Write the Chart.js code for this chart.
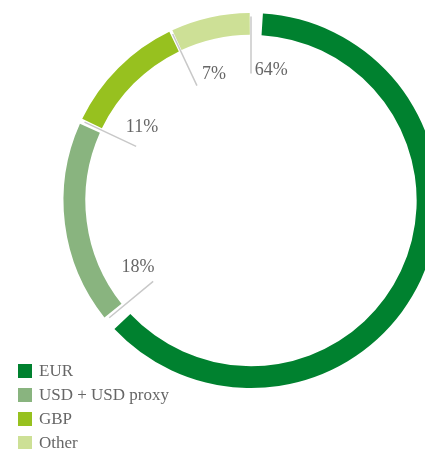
<!DOCTYPE html>
<html>
<head>
<meta charset="utf-8">
<script src="https://cdn.jsdelivr.net/npm/chart.js@4/dist/chart.umd.min.js"></script>
<style>
  html, body { margin: 0; padding: 0; background: #fff; overflow: hidden; }
  body { width: 425px; height: 449px; position: relative; }
  #wrap { position: absolute; left: 0; top: 0; width: 460px; height: 449px; }
  #legend { position: absolute; left: 18px; top: 359px; font-family: "Liberation Serif", serif; font-size: 17px; color: #666; }
  .item { height: 24px; display: flex; align-items: center; }
  .box { width: 14px; height: 14px; margin-right: 7px; }
</style>
</head>
<body>
<div id="wrap"><canvas id="chart"></canvas></div>
<div id="legend"></div>
<script>
// currency split, percent
const labels = ['EUR', 'USD + USD proxy', 'GBP', 'Other'];
const shares = [64, 18, 11, 7];
const colors = ['#00812f', '#89b47f', '#97c11f', '#cde096'];

// leader lines + % text at the start of each slice
const sliceLabels = {
  id: 'sliceLabels',
  afterDatasetsDraw(chart) {
    const ctx = chart.ctx;
    const arcs = chart.getDatasetMeta(0).data;
    ctx.save();
    arcs.forEach((arc, i) => {
      const a = arc.startAngle;
      const R = arc.outerRadius + 2;
      const r = R * 0.69;
      ctx.strokeStyle = '#c8c8c8';
      ctx.lineWidth = 1.5;
      ctx.beginPath();
      ctx.moveTo(arc.x + Math.cos(a) * R, arc.y + Math.sin(a) * R);
      ctx.lineTo(arc.x + Math.cos(a) * r, arc.y + Math.sin(a) * r);
      ctx.stroke();
      const ta = a + 0.155, tr = R * 0.715;
      ctx.fillStyle = '#666';
      ctx.font = '18px "Liberation Serif"';
      ctx.textAlign = 'center';
      ctx.textBaseline = 'middle';
      ctx.fillText(shares[i] + '%', arc.x + Math.cos(ta) * tr, arc.y + Math.sin(ta) * tr);
    });
    ctx.restore();
  }
};

new Chart(document.getElementById('chart'), {
  type: 'doughnut',
  data: {
    labels: labels,
    datasets: [{
      data: shares,
      backgroundColor: colors,
      borderWidth: 0,
      spacing: 11
    }]
  },
  options: {
    responsive: true,
    maintainAspectRatio: false,
    animation: false,
    cutout: '88%',
    layout: { padding: { left: 63, top: 13, right: 21, bottom: 61 } },
    plugins: { legend: { display: false }, tooltip: { enabled: false } }
  },
  plugins: [sliceLabels]
});

const legend = document.getElementById('legend');
labels.forEach((l, i) => {
  legend.innerHTML += '<div class="item"><div class="box" style="background:' + colors[i] + '"></div>' + l + '</div>';
});
</script>
</body>
</html>
